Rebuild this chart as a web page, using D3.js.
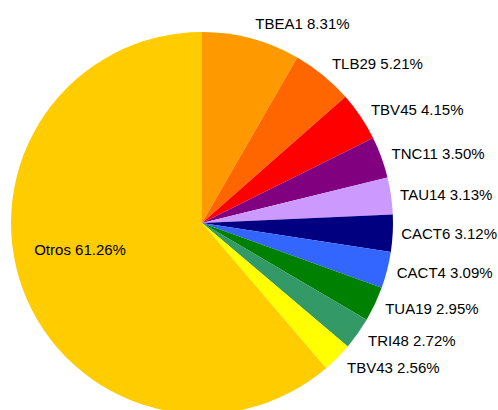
<!DOCTYPE html>
<html>
<head>
<meta charset="utf-8">
<script src="https://cdn.jsdelivr.net/npm/d3@7"></script>
<style>
  html, body { margin: 0; padding: 0; background: #fff; }
  svg { display: block; }
  text { font-family: "Liberation Sans", Arial, sans-serif; font-size: 15px; fill: #000; }
</style>
</head>
<body>
<svg id="chart" width="498" height="410"></svg>
<script>
// Share of each category, in percent, clockwise from 12 o'clock
const categories = ["TBEA1", "TLB29", "TBV45", "TNC11", "TAU14", "CACT6", "CACT4", "TUA19", "TRI48", "TBV43", "Otros"];
const shares = [8.31, 5.21, 4.15, 3.50, 3.13, 3.12, 3.09, 2.95, 2.72, 2.56, 61.26];
const colors = ["#FF9900", "#FF6600", "#FF0000", "#800080", "#CC99FF", "#000080", "#3366FF", "#008000", "#339966", "#FFFF00", "#FFCC00"];

const data = categories.map((c, i) => ({ name: c, value: shares[i], color: colors[i] }));

const svg = d3.select("#chart");
const cx = 202, cy = 223, radius = 191;
const g = svg.append("g").attr("transform", `translate(${cx},${cy})`);

const pie = d3.pie().value(d => d.value).sort(null);
const arcs = pie(data);

const arc = d3.arc().innerRadius(0).outerRadius(radius);
const innerLabelArc = d3.arc().innerRadius(130).outerRadius(130);

g.selectAll("path.slice")
  .data(arcs)
  .enter().append("path")
  .attr("class", "slice")
  .attr("d", arc)
  .attr("fill", d => d.data.color);

const fmt = v => v.toFixed(2) + "%";

// Outside labels sit a little further out near the top/bottom,
// where the text box's height faces the rim
function outerPoint(d) {
  const a = (d.startAngle + d.endAngle) / 2;
  const r = radius + 8 + 8 * Math.abs(Math.cos(a));
  return [r * Math.sin(a), -r * Math.cos(a)];
}

// Small slices get labels outside the rim; the large one is labelled inside
g.selectAll("text.label")
  .data(arcs)
  .enter().append("text")
  .attr("class", "label")
  .each(function(d) {
    const inside = d.endAngle - d.startAngle > Math.PI;
    const p = inside ? innerLabelArc.centroid(d) : outerPoint(d);
    d3.select(this)
      .attr("x", p[0])
      .attr("y", inside ? p[1] - 18 : p[1])
      .attr("dy", "0.35em")
      .attr("text-anchor", inside ? "middle" : "start")
      .text(d.data.name + " " + fmt(d.data.value));
  });
</script>
</body>
</html>
